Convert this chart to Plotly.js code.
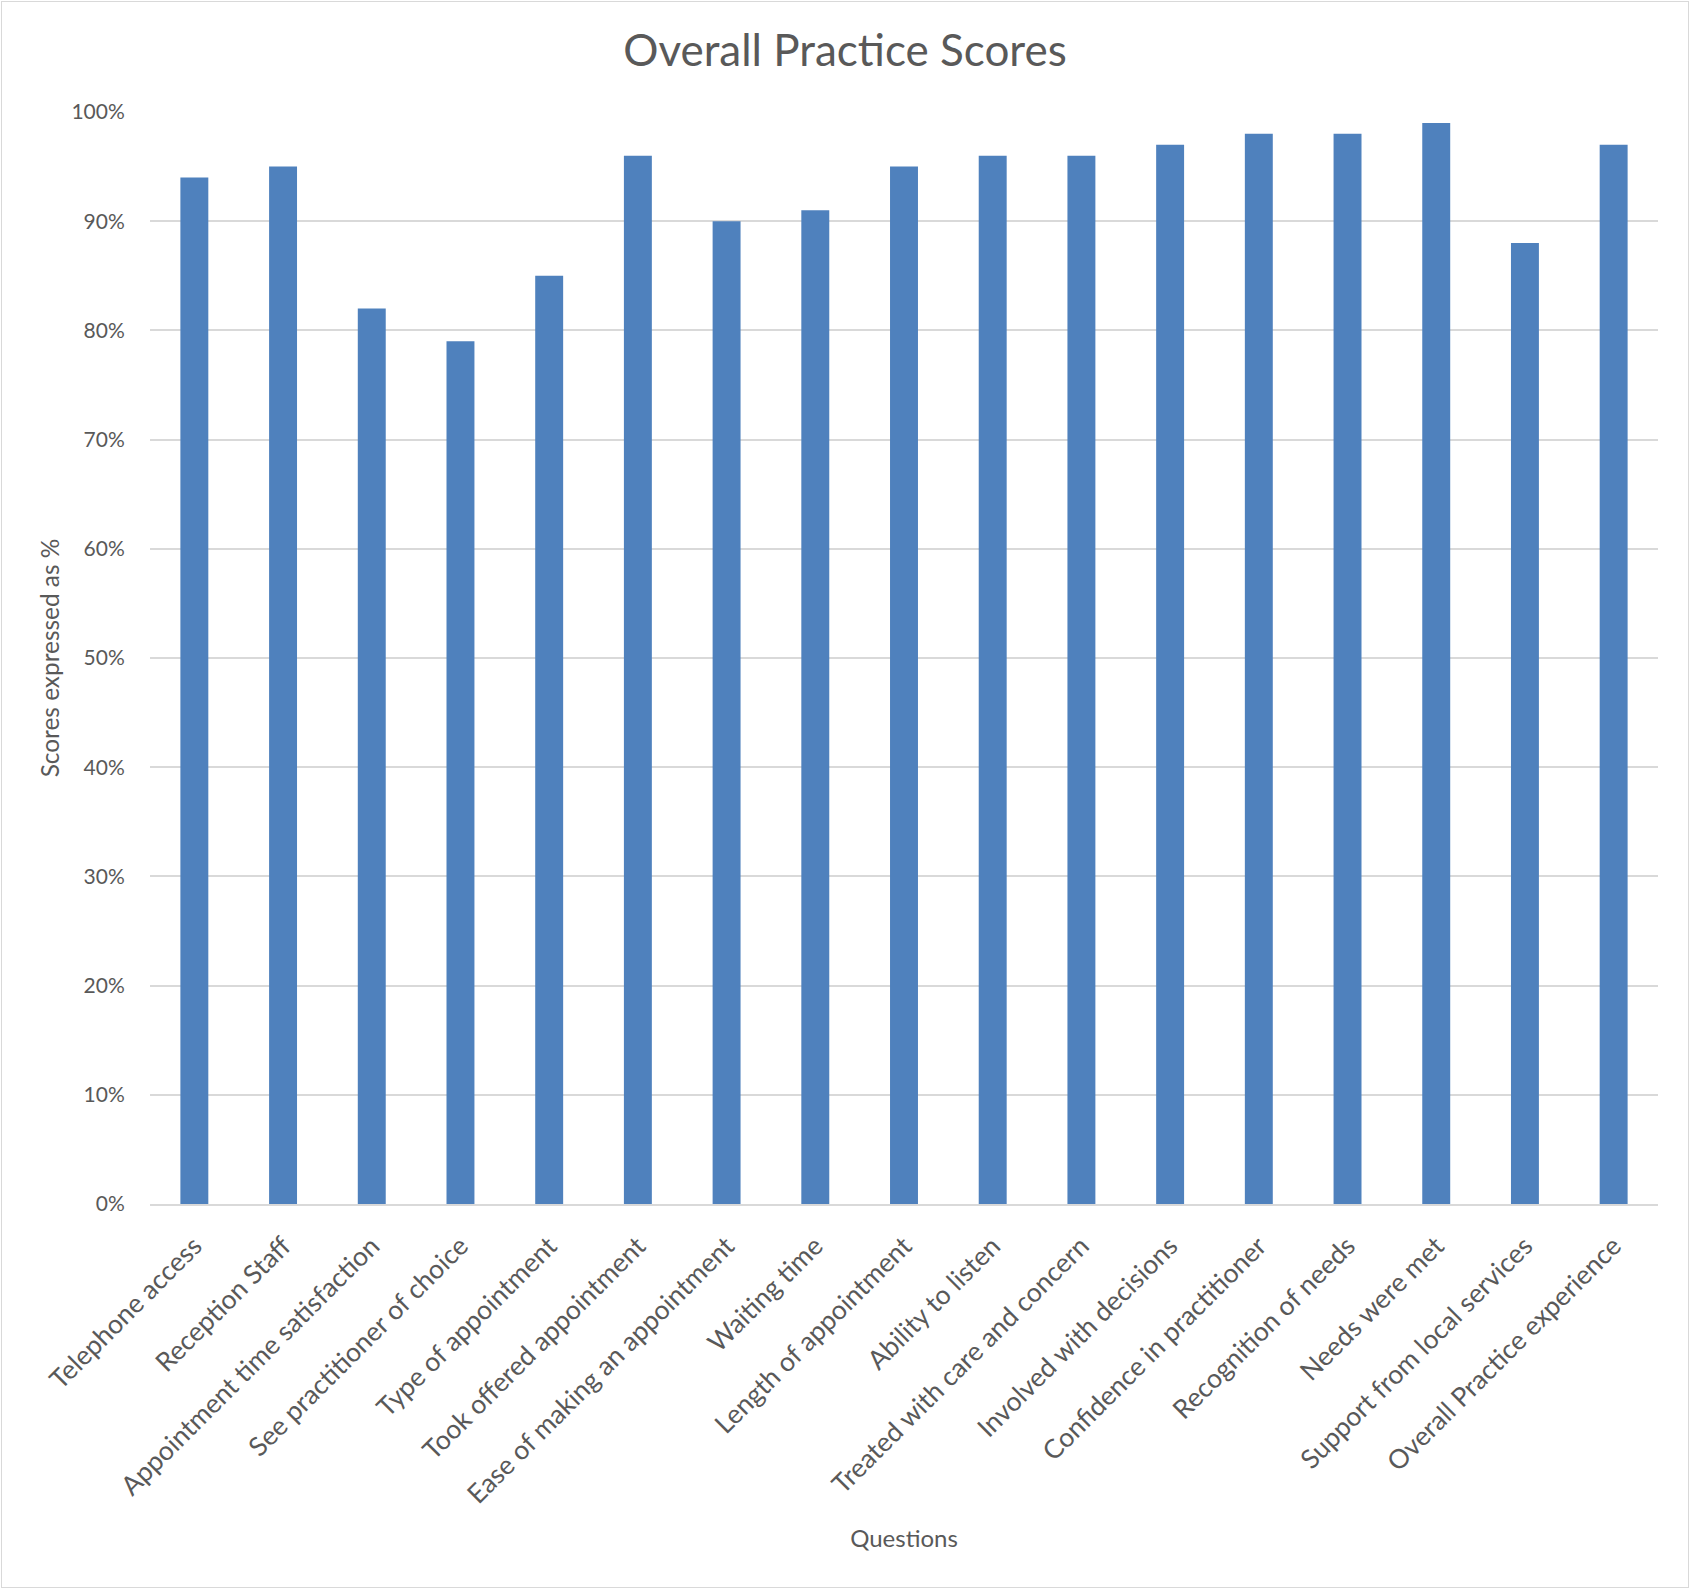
<!DOCTYPE html>
<html>
<head>
<meta charset="utf-8">
<script src="https://cdn.plot.ly/plotly-3.0.1.min.js"></script>
<style>
  html, body { margin: 0; padding: 0; background: #ffffff; overflow: hidden; }
  #frame { position: absolute; left: 1px; top: 1px; width: 1686px; height: 1585px; border: 1px solid #d9d9d9; }
  #chart { width: 1686px; height: 1585px; }
</style>
</head>
<body>
<div id="frame"><div id="chart"></div></div>
<script>
const categories = [
  "Telephone access",
  "Reception Staff",
  "Appointment time satisfaction",
  "See practitioner of choice",
  "Type of appointment",
  "Took offered appointment",
  "Ease of making an appointment",
  "Waiting time",
  "Length of appointment",
  "Ability to listen",
  "Treated with care and concern",
  "Involved with decisions",
  "Confidence in practitioner",
  "Recognition of needs",
  "Needs were met",
  "Support from local services",
  "Overall Practice experience"
];
const scores = [94, 95, 82, 79, 85, 96, 90, 91, 95, 96, 96, 97, 98, 98, 99, 88, 97];
const yTickValues = [0, 10, 20, 30, 40, 50, 60, 70, 80, 90, 100];

const FONT = "Lato, 'Open Sans', sans-serif";
const TEXT = "#595959";

const trace = {
  type: "bar",
  x: categories,
  y: scores,
  marker: { color: "#4F81BD", line: { width: 0 } },
  hoverinfo: "x+y"
};

const layout = {
  width: 1686,
  height: 1585,
  margin: { l: 148, r: 30, t: 110, b: 383 },
  paper_bgcolor: "#ffffff",
  plot_bgcolor: "#ffffff",
  font: { family: FONT, color: TEXT },
  showlegend: false,
  bargap: 0.685,
  title: {
    text: "Overall Practice Scores",
    font: { family: FONT, size: 44, color: TEXT },
    x: 0.5, xref: "container", xanchor: "center",
    y: 1 - 49 / 1585, yref: "container", yanchor: "middle"
  },
  xaxis: {
    type: "category",
    tickangle: -45,
    tickfont: { family: FONT, size: 26.5, color: TEXT },
    showline: true,
    linecolor: "#d9d9d9",
    linewidth: 2,
    showgrid: false,
    zeroline: false,
    ticks: "outside",
    ticklen: 14,
    tickcolor: "rgba(0,0,0,0)",
    title: {
      text: "Questions",
      font: { family: FONT, size: 24, color: TEXT },
      standoff: 22
    },
    automargin: false
  },
  yaxis: {
    range: [0, 100],
    tickvals: yTickValues,
    ticktext: yTickValues.map(v => v + "%"),
    tickfont: { family: FONT, size: 21, color: TEXT },
    showgrid: true,
    gridcolor: "#d9d9d9",
    gridwidth: 1.5,
    zeroline: false,
    showline: false,
    ticks: "outside",
    ticklen: 20,
    tickcolor: "rgba(0,0,0,0)",
    title: {
      text: "Scores expressed as %",
      font: { family: FONT, size: 24.4, color: TEXT },
      standoff: 4
    },
    automargin: false
  }
};

Plotly.newPlot("chart", [trace], layout, { displayModeBar: false, responsive: false });
</script>
</body>
</html>
